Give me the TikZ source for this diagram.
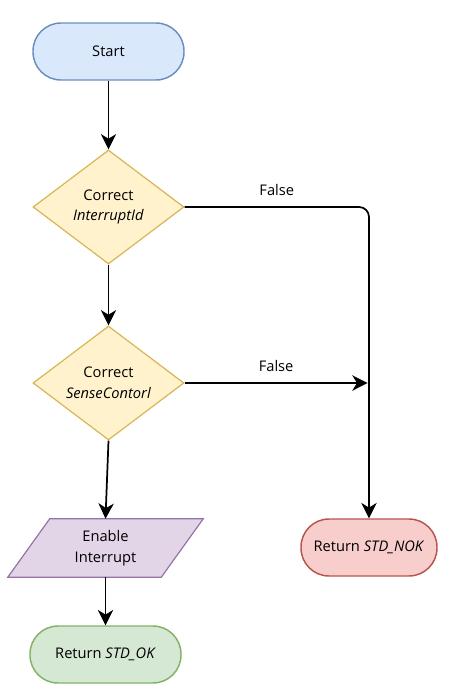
\documentclass[tikz,border=0pt]{standalone}
\usepackage{fontspec}
\setmainfont{Open Sans}
\usetikzlibrary{shapes.geometric,arrows.meta}
\definecolor{bluefill}{HTML}{DAE8FC}\definecolor{bluedraw}{HTML}{6C8EBF}
\definecolor{yelfill}{HTML}{FFF2CC}\definecolor{yeldraw}{HTML}{D6B656}
\definecolor{purfill}{HTML}{E1D5E7}\definecolor{purdraw}{HTML}{9673A6}
\definecolor{redfill}{HTML}{F8CECC}\definecolor{reddraw}{HTML}{B85450}
\definecolor{grnfill}{HTML}{D5E8D4}\definecolor{grndraw}{HTML}{82B366}
\begin{document}
\begin{tikzpicture}[x=0.75pt,y=-0.75pt,
  every node/.style={font=\fontsize{11}{15.5}\selectfont, align=center, inner sep=0pt},
  term/.style={rectangle, rounded corners=21pt, line width=1.1pt, minimum height=42.75pt},
  decision/.style={diamond, fill=yelfill, draw=yeldraw, line width=0.9pt, minimum width=113.25pt, minimum height=85.5pt, aspect=1.3},
  flow/.style={line width=1.3pt, -{Stealth[length=11.5pt,width=11.5pt,inset=3.5pt]}},
  lbl/.style={anchor=base, yshift=9pt}]
\useasboundingbox (0,0) rectangle (451,692);
\node[term, fill=bluefill, draw=bluedraw, minimum width=113.25pt] (start) at (108.5,51.5) {Start};
\node[decision] (d1) at (108.5,207) {Correct\\\textit{InterruptId}};
\node[decision] (d2) at (108.5,383) {Correct\\\textit{SenseContorl}};
\node[rectangle, minimum width=146.25pt, minimum height=43.5pt] (para) at (105.5,548) {};
\draw[fill=purfill, draw=purdraw, line width=0.9pt]
  ([xshift=31.5pt]para.north west) -- (para.north east) -- ([xshift=-31.5pt]para.south east) -- (para.south west) -- cycle;
\node at (para.center) {Enable\\Interrupt};
\node[term, fill=grnfill, draw=grndraw, minimum width=113.25pt] (ok) at (105.5,654.5) {Return \textit{STD\_OK}};
\node[term, fill=redfill, draw=reddraw, minimum width=102pt] (nok) at (369,547.5) {Return \textit{STD\_NOK}};
\draw[flow] (start) -- (d1);
\draw[flow] (d1) -- (d2);
\draw[flow] (d2.south) -- (para.north);
\draw[flow] (para.south) -- (ok.north);
\draw[flow, rounded corners=7.5pt] (d1.east) -| node[pos=0.25, lbl] {False} (nok.north);
\draw[flow] (d2.east) -- node[lbl] {False} ([xshift=-1pt]d2.east -| nok.north);
\end{tikzpicture}
\end{document}
